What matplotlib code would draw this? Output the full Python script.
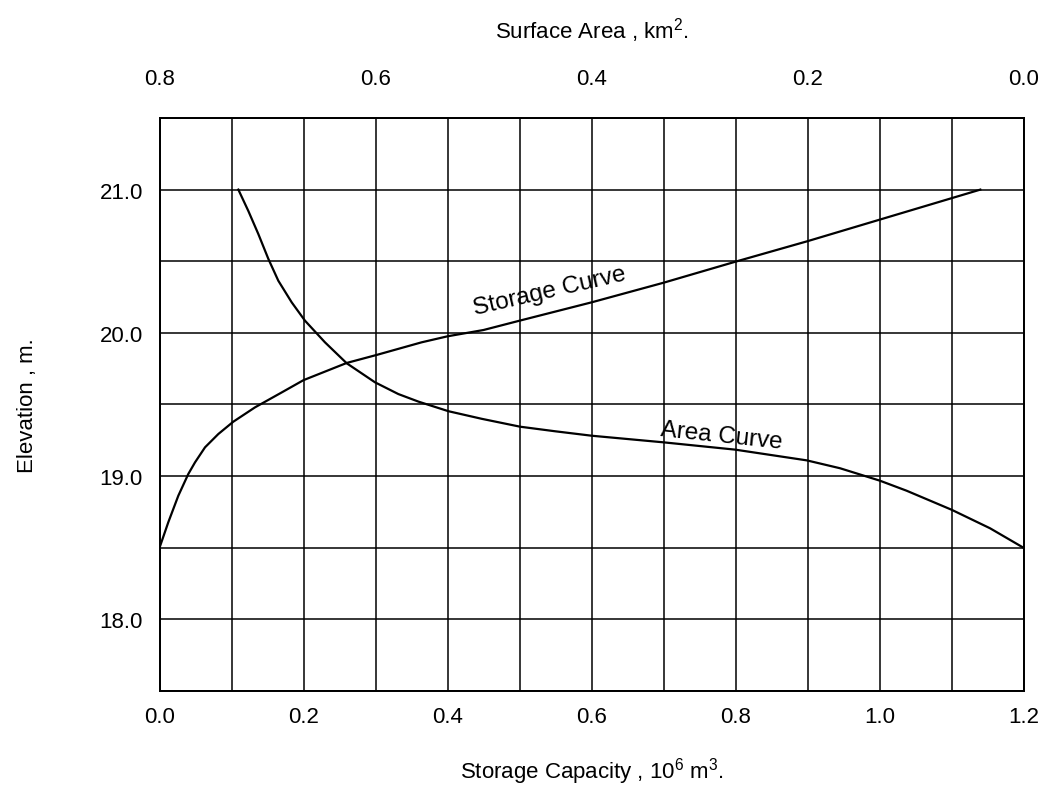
import numpy as np
import matplotlib
matplotlib.use('Agg')
import matplotlib.pyplot as plt
from matplotlib.ticker import MultipleLocator

plt.rcParams['font.family'] = ['Liberation Sans', 'DejaVu Sans']
plt.rcParams['mathtext.default'] = 'regular'

# storage curve: capacity (10^6 m^3) vs elevation (m)
storage = [0.0, 0.0122, 0.0261, 0.040, 0.0493, 0.0632, 0.0817, 0.1025, 0.1326,
           0.170, 0.2, 0.26, 0.3016, 0.364, 0.4, 0.45, 0.5, 0.6, 0.7, 0.8, 0.9,
           1.0, 1.1, 1.14]
storage_elev = [18.5, 18.678, 18.863, 19.015, 19.096, 19.201, 19.294, 19.38, 19.48,
                19.585, 19.67, 19.79, 19.846, 19.934, 19.976, 20.02, 20.085, 20.213,
                20.35, 20.497, 20.64, 20.79, 20.94, 21.0]

# area curve: surface area (km^2) vs elevation (m)
area = [0.727, 0.7177, 0.7085, 0.6992, 0.690, 0.6776, 0.6653, 0.6468, 0.6267,
        0.6005, 0.5789, 0.5602, 0.5324, 0.5016, 0.4661, 0.4336, 0.3998, 0.3335,
        0.2671, 0.2007, 0.1699, 0.1329, 0.1082, 0.0665, 0.031, 0.0]
area_elev = [21.0, 20.85, 20.69, 20.516, 20.364, 20.213, 20.085, 19.934, 19.788,
             19.655, 19.573, 19.52, 19.453, 19.40, 19.345, 19.313, 19.282, 19.236,
             19.185, 19.11, 19.055, 18.968, 18.898, 18.765, 18.636, 18.5]

bottom_ticks = [0.0, 0.2, 0.4, 0.6, 0.8, 1.0, 1.2]
top_ticks = [0.8, 0.6, 0.4, 0.2, 0.0]
y_ticks = [18.0, 19.0, 20.0, 21.0]

fig = plt.figure(figsize=(10.46, 8.04), dpi=100)
ax = fig.add_axes([0.1525, 0.1393, 0.826, 0.7127])

ax.plot(storage, storage_elev, color='black', linewidth=1.6)
ax.set_xlim(0, 1.2)
ax.set_ylim(17.5, 21.5)
ax.set_xticks(bottom_ticks)
ax.set_xticklabels(['%.1f' % t for t in bottom_ticks])
ax.set_yticks(y_ticks)
ax.set_yticklabels(['%.1f' % t for t in y_ticks])
ax.xaxis.set_minor_locator(MultipleLocator(0.1))
ax.yaxis.set_minor_locator(MultipleLocator(0.5))
ax.grid(which='both', color='black', linewidth=1.1)
ax.tick_params(which='both', length=0, labelsize=16)
ax.tick_params(axis='x', pad=11)
ax.tick_params(axis='y', pad=12)
ax.set_xlabel('Storage Capacity , 10$^6$ m$^3$.', fontsize=16, labelpad=20)
ax.set_ylabel('Elevation , m.', fontsize=16, labelpad=44)

ax2 = ax.twiny()
ax2.plot(area, area_elev, color='black', linewidth=1.6)
ax2.set_xlim(0.8, 0.0)
ax2.set_xticks(top_ticks)
ax2.set_xticklabels(['%.1f' % t for t in top_ticks])
ax2.tick_params(length=0, labelsize=16, pad=21)
ax2.set_xlabel('Surface Area , km$^2$.', fontsize=16, labelpad=22)

for a in (ax, ax2):
    for s in a.spines.values():
        s.set_linewidth(1.3)

ax.text(0.438, 20.13, 'Storage Curve', fontsize=17.5, rotation=13,
        rotation_mode='anchor', ha='left', va='baseline')
ax.text(0.695, 19.29, 'Area Curve', fontsize=17.5, rotation=-6,
        rotation_mode='anchor', ha='left', va='baseline')

fig.savefig('out.png', dpi=100)
